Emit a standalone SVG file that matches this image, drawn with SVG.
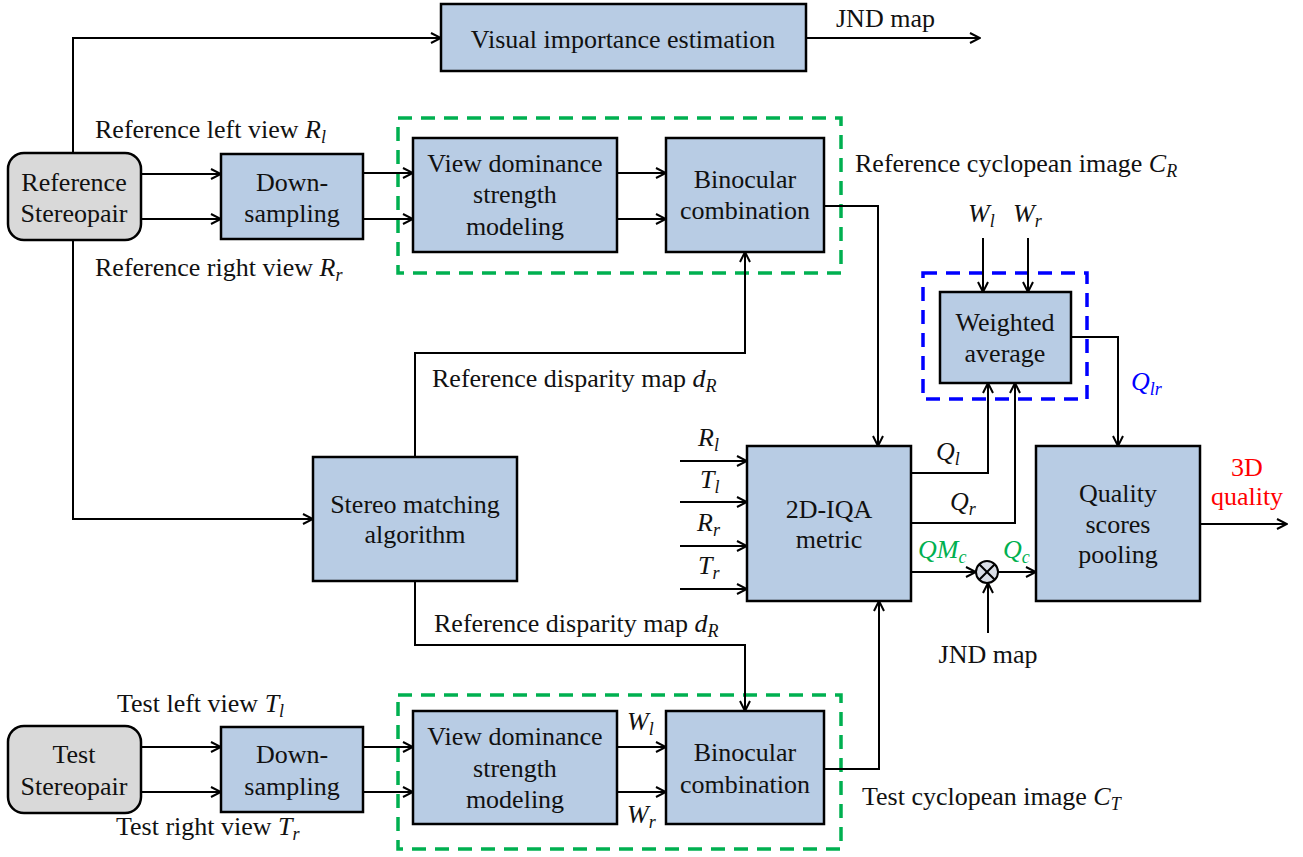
<svg xmlns="http://www.w3.org/2000/svg" width="1303" height="857" viewBox="0 0 1303 857" font-family="'Liberation Serif', 'Times New Roman', serif">
<defs>
<marker id="arr" viewBox="0 0 12 12" refX="11" refY="6" markerWidth="12" markerHeight="12" markerUnits="userSpaceOnUse" orient="auto">
<path d="M1,1 L11,6 L1,11" fill="none" stroke="#000" stroke-width="2"/>
</marker>
<style>
.box{fill:#b8cce4;stroke:#000;stroke-width:2.5}
.src{fill:#d9d9d9;stroke:#000;stroke-width:2.5}
.t{font-size:26px;fill:#111}
.c{text-anchor:middle}
.m{font-style:italic}
.s{font-size:18px}
.ln{fill:none;stroke:#000;stroke-width:2}
.a{marker-end:url(#arr)}
.gd{fill:none;stroke:#00b050;stroke-width:3.5;stroke-dasharray:14 9}
.bd{fill:none;stroke:#0000ff;stroke-width:3.5;stroke-dasharray:14 9}
</style>
</defs>
<rect width="1303" height="857" fill="#fff"/>

<g id="groups">
<rect class="gd" x="398" y="118" width="443" height="155"/>
<rect class="gd" x="398" y="695" width="443" height="154"/>
<rect class="bd" x="923" y="273" width="164" height="126"/>
</g>

<g id="connectors">
<path class="ln a" d="M73,153 V38 H441"/>
<path class="ln a" d="M73,240 V519 H313"/>
<path class="ln a" d="M141,174 H221"/>
<path class="ln a" d="M141,219 H221"/>
<path class="ln a" d="M363,173 H413"/>
<path class="ln a" d="M363,219 H413"/>
<path class="ln a" d="M617,173 H666"/>
<path class="ln a" d="M617,219 H666"/>
<path class="ln a" d="M824,206 H878 V446"/>
<path class="ln a" d="M415,457 V353 H745 V252"/>
<path class="ln a" d="M415,581 V645 H745 V711"/>
<path class="ln a" d="M141,747 H221"/>
<path class="ln a" d="M141,792 H221"/>
<path class="ln a" d="M363,747 H413"/>
<path class="ln a" d="M363,792 H413"/>
<path class="ln a" d="M617,747 H666"/>
<path class="ln a" d="M617,792 H666"/>
<path class="ln a" d="M824,769 H879 V601"/>
<path class="ln a" d="M680,461 H747"/>
<path class="ln a" d="M680,502 H747"/>
<path class="ln a" d="M680,546 H747"/>
<path class="ln a" d="M680,589 H747"/>
<path class="ln a" d="M911,473 H988 V383"/>
<path class="ln a" d="M911,523 H1015 V383"/>
<path class="ln a" d="M911,572 H976"/>
<path class="ln a" d="M998,572 H1036"/>
<path class="ln a" d="M988,633 V583"/>
<path class="ln a" d="M983,238 V292"/>
<path class="ln a" d="M1028,238 V292"/>
<path class="ln a" d="M1071,337 H1118 V446"/>
<path class="ln a" d="M1200,524 H1287"/>
<path class="ln a" d="M806,38 H980"/>
</g>

<g id="ref-stereopair">
<rect class="src" x="8" y="153" width="133" height="87" rx="16"/>
<text class="t c" x="74" y="191">Reference</text>
<text class="t c" x="74" y="222">Stereopair</text>
</g>
<g id="ref-downsampling">
<rect class="box" x="221" y="154" width="142" height="85"/>
<text class="t c" x="292" y="191">Down-</text>
<text class="t c" x="292" y="222">sampling</text>
</g>
<g id="visual-importance">
<rect class="box" x="441" y="4" width="365" height="67"/>
<text class="t c" x="623" y="48">Visual importance estimation</text>
</g>
<g id="ref-view-dominance">
<rect class="box" x="413" y="138" width="204" height="114"/>
<text class="t c" x="515" y="172">View dominance</text>
<text class="t c" x="515" y="203">strength</text>
<text class="t c" x="515" y="235">modeling</text>
</g>
<g id="ref-binocular">
<rect class="box" x="666" y="138" width="158" height="114"/>
<text class="t c" x="745" y="188">Binocular</text>
<text class="t c" x="745" y="219">combination</text>
</g>
<g id="stereo-matching">
<rect class="box" x="313" y="457" width="204" height="124"/>
<text class="t c" x="415" y="513">Stereo matching</text>
<text class="t c" x="415" y="543">algorithm</text>
</g>
<g id="iqa-metric">
<rect class="box" x="747" y="446" width="164" height="155"/>
<text class="t c" x="829" y="518">2D-IQA</text>
<text class="t c" x="829" y="548">metric</text>
</g>
<g id="weighted-average">
<rect class="box" x="940" y="292" width="131" height="91"/>
<text class="t c" x="1005" y="331">Weighted</text>
<text class="t c" x="1005" y="362">average</text>
</g>
<g id="quality-pooling">
<rect class="box" x="1036" y="446" width="164" height="155"/>
<text class="t c" x="1118" y="502">Quality</text>
<text class="t c" x="1118" y="533">scores</text>
<text class="t c" x="1118" y="563">pooling</text>
</g>
<g id="multiplier">
<circle cx="987" cy="572" r="11" fill="#d9dde6" stroke="#000" stroke-width="2"/>
<path d="M979.2,564.2 L994.8,579.8 M994.8,564.2 L979.2,579.8" stroke="#000" stroke-width="2"/>
</g>
<g id="test-stereopair">
<rect class="src" x="8" y="726" width="133" height="87" rx="16"/>
<text class="t c" x="74" y="763">Test</text>
<text class="t c" x="74" y="795">Stereopair</text>
</g>
<g id="test-downsampling">
<rect class="box" x="221" y="727" width="142" height="85"/>
<text class="t c" x="292" y="763">Down-</text>
<text class="t c" x="292" y="795">sampling</text>
</g>
<g id="test-view-dominance">
<rect class="box" x="413" y="711" width="204" height="113"/>
<text class="t c" x="515" y="745">View dominance</text>
<text class="t c" x="515" y="777">strength</text>
<text class="t c" x="515" y="808">modeling</text>
</g>
<g id="test-binocular">
<rect class="box" x="666" y="711" width="158" height="113"/>
<text class="t c" x="745" y="761">Binocular</text>
<text class="t c" x="745" y="793">combination</text>
</g>

<g id="labels">
<text class="t" x="836" y="27">JND map</text>
<text class="t" x="95" y="138">Reference left view <tspan class="m">R</tspan><tspan class="m s" dy="5">l</tspan></text>
<text class="t" x="95" y="276">Reference right view <tspan class="m">R</tspan><tspan class="m s" dy="5">r</tspan></text>
<text class="t" x="855" y="172">Reference cyclopean image <tspan class="m">C</tspan><tspan class="m s" dy="5">R</tspan></text>
<text class="t" x="432" y="387">Reference disparity map <tspan class="m">d</tspan><tspan class="m s" dy="5">R</tspan></text>
<text class="t" x="434" y="632">Reference disparity map <tspan class="m">d</tspan><tspan class="m s" dy="5">R</tspan></text>
<text class="t" x="117" y="712">Test left view <tspan class="m">T</tspan><tspan class="m s" dy="5">l</tspan></text>
<text class="t" x="116" y="835">Test right view <tspan class="m">T</tspan><tspan class="m s" dy="5">r</tspan></text>
<text class="t" x="862" y="805">Test cyclopean image <tspan class="m">C</tspan><tspan class="m s" dy="5">T</tspan></text>
<text class="t" x="698" y="446"><tspan class="m">R</tspan><tspan class="m s" dy="5">l</tspan></text>
<text class="t" x="700" y="488"><tspan class="m">T</tspan><tspan class="m s" dy="5">l</tspan></text>
<text class="t" x="697" y="531"><tspan class="m">R</tspan><tspan class="m s" dy="5">r</tspan></text>
<text class="t" x="698" y="574"><tspan class="m">T</tspan><tspan class="m s" dy="5">r</tspan></text>
<text class="t" x="936" y="460"><tspan class="m">Q</tspan><tspan class="m s" dy="5">l</tspan></text>
<text class="t" x="950" y="510"><tspan class="m">Q</tspan><tspan class="m s" dy="5">r</tspan></text>
<text class="t" x="918" y="558" style="fill:#00b050"><tspan class="m">QM</tspan><tspan class="m s" dy="5">c</tspan></text>
<text class="t" x="1003" y="558" style="fill:#00b050"><tspan class="m">Q</tspan><tspan class="m s" dy="5">c</tspan></text>
<text class="t" x="1131" y="390" style="fill:#0000ff"><tspan class="m">Q</tspan><tspan class="m s" dy="5">lr</tspan></text>
<text class="t" x="968" y="222"><tspan class="m">W</tspan><tspan class="m s" dy="5">l</tspan></text>
<text class="t" x="1013" y="222"><tspan class="m">W</tspan><tspan class="m s" dy="5">r</tspan></text>
<text class="t" x="627" y="730"><tspan class="m">W</tspan><tspan class="m s" dy="5">l</tspan></text>
<text class="t" x="627" y="823"><tspan class="m">W</tspan><tspan class="m s" dy="5">r</tspan></text>
<text class="t c" x="988" y="663">JND map</text>
<text class="t c" x="1247" y="476" style="fill:#ff0000">3D</text>
<text class="t c" x="1247" y="505" style="fill:#ff0000">quality</text>
</g>
</svg>
